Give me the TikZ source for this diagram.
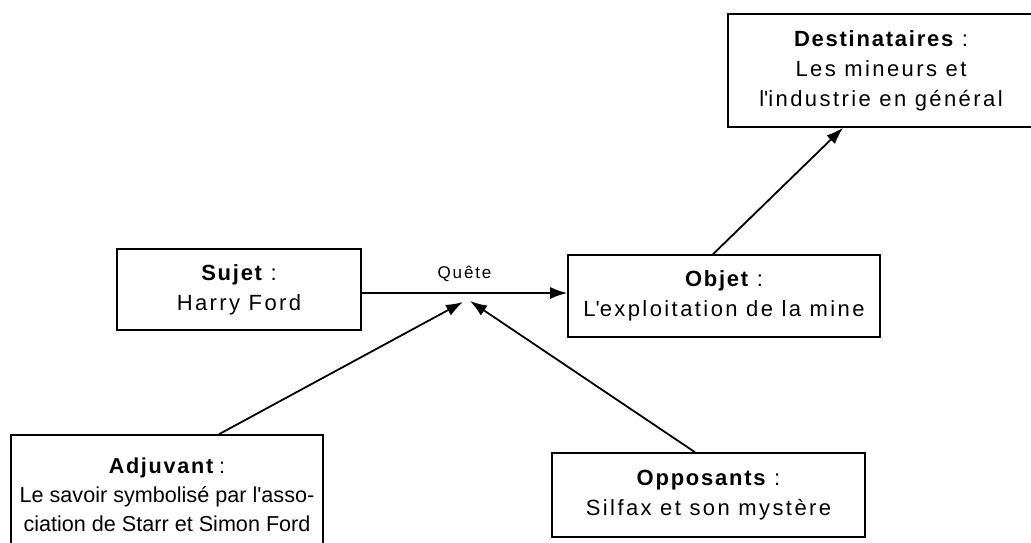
\documentclass[tikz,border=0pt]{standalone}
\usepackage{fontspec}
\setmainfont{Liberation Sans}
\newfontfamily\regfont[LetterSpace=11]{Liberation Sans}
\newfontfamily\tightfont[LetterSpace=0]{Liberation Sans}
\newfontfamily\titlefont[LetterSpace=8]{Liberation Sans}
\usetikzlibrary{arrows.meta}
\tikzset{
  box/.style={draw, line width=1.6pt, rectangle, inner sep=0pt, align=center,
    font=\regfont\fontsize{22}{30}\selectfont},
  conn/.style={line width=1.8pt, -{Latex[length=17pt,width=12pt]}},
  lbl/.style={font=\regfont\fontsize{17}{19}\selectfont, inner sep=0pt}
}
\newcommand{\ttl}[1]{{\titlefont\bfseries #1}}
\begin{document}
\begin{tikzpicture}[x=1pt,y=-1pt]
\useasboundingbox (0,0) rectangle (1031,542);
\clip (0,0) rectangle (1031,542);
\node[box, minimum width=306, minimum height=113] (dest) at (881,70.5)
  {\ttl{Destinataires} :\\ Les mineurs et\\ l\textquotesingle industrie en général};
\node[box, minimum width=244, minimum height=81] (sujet) at (239,289.5)
  {\ttl{Sujet} :\\ Harry Ford};
\node[box, minimum width=312, minimum height=82] (objet) at (724,296)
  {\ttl{Objet} :\\ L\textquotesingle exploitation de la mine};
\node[box, minimum width=312, minimum height=120,
  font=\tightfont\fontsize{21.6}{29}\selectfont] (adj) at (167,495)
  {\ttl{Adjuvant} :\\ Le savoir symbolisé par l\textquotesingle asso-\\ ciation de Starr et Simon Ford};
\node[box, minimum width=313, minimum height=84] (opp) at (708.5,495)
  {\ttl{Opposants} :\\ Silfax et son mystère};
\coordinate (q) at (466,293);
\coordinate (qa) at (463,302);
\coordinate (qo) at (470,301);
\draw[conn] (sujet.east |- q) -- (objet.west |- q)
  node[lbl, midway, above=10pt] (quete) {Quête};
\draw[conn] ([xshift=52pt]adj.north) -- (qa);
\draw[conn] ([xshift=-13.5pt]opp.north) -- (qo);
\draw[conn] ([xshift=-11pt]objet.north) -- ([xshift=-38pt]dest.south);
\end{tikzpicture}
\end{document}
